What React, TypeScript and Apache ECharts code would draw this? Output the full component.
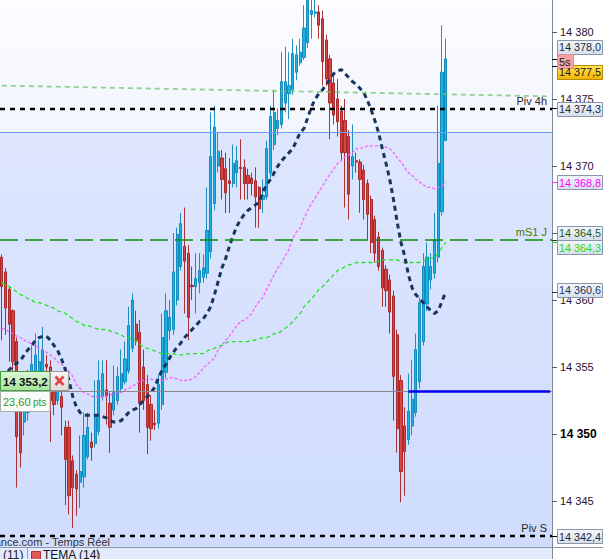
import React, { useEffect, useRef } from "react";
import * as echarts from "echarts";

const FONT = "'Liberation Sans', Arial, sans-serif";
const SLOT_COUNT = 148;
const CATEGORIES = Array.from({ length: SLOT_COUNT }, (_, i) => `t${i}`);

const OPEN = [
  14363.2, 14362.1, 14360.8, 14359.2, 14356.9, 14352.5, 14350.9, 14351.6, 14352.9, 14354.6,
  14354.4, 14354.6, 14355.2, 14355.0, 14353.1, 14352.5, 14352.8, 14350.5, 14350.5, 14348.0,
  14347.0, 14346.4, 14346.8, 14348.3, 14349.4, 14349.3, 14350.2, 14352.8, 14353.3, 14352.3,
  14351.8, 14352.5, 14353.4, 14353.9, 14354.7, 14356.4, 14358.2, 14357.6, 14355.0, 14353.7,
  14352.2, 14350.8, 14350.8, 14352.2, 14354.6, 14357.7, 14357.8, 14360.0, 14362.5, 14364.0,
  14363.5, 14361.1, 14361.0, 14361.3, 14361.7, 14362.0, 14363.6, 14367.2, 14370.0, 14370.6,
  14369.8, 14368.9, 14368.7, 14369.5, 14369.9, 14369.9, 14369.3, 14369.1, 14368.9, 14368.4,
  14367.5, 14367.7, 14369.5, 14371.6, 14372.8, 14373.1, 14374.7, 14375.4, 14375.7, 14377.0,
  14377.7, 14378.1, 14379.2, 14381.3, 14381.4, 14381.5, 14381.0, 14379.4, 14378.0, 14376.2,
  14375.0, 14374.1, 14373.4, 14372.2, 14370.0, 14370.4, 14370.3, 14369.7, 14368.7, 14367.5,
  14366.0, 14364.7, 14363.7, 14362.3, 14361.5, 14360.3, 14357.4, 14354.0, 14350.6, 14349.6,
  14350.6, 14351.6, 14353.9, 14356.9, 14359.7, 14361.5, 14362.0, 14363.2, 14366.6, 14371.9,
];
const CLOSE = [
  14361.0, 14359.4, 14358.2, 14355.4, 14349.8, 14348.6, 14352.5, 14353.7, 14355.2, 14355.9,
  14355.4, 14356.3, 14355.0, 14352.5, 14352.2, 14353.7, 14352.0, 14348.1, 14345.4, 14346.0,
  14345.9, 14347.2, 14349.9, 14350.5, 14349.0, 14351.3, 14354.0, 14354.5, 14352.8, 14350.5,
  14353.1, 14354.3, 14354.5, 14355.6, 14358.1, 14360.0, 14357.0, 14352.3, 14352.5, 14350.5,
  14350.4, 14350.7, 14353.7, 14357.2, 14359.2, 14358.7, 14362.1, 14364.9, 14365.7, 14362.9,
  14358.7, 14361.0, 14361.6, 14362.2, 14362.4, 14365.2, 14370.7, 14372.9, 14371.1, 14369.0,
  14368.0, 14368.7, 14370.2, 14370.4, 14369.8, 14368.7, 14368.7, 14368.7, 14367.7, 14366.8,
  14367.8, 14371.3, 14373.7, 14374.0, 14373.4, 14376.3, 14376.3, 14376.0, 14378.4, 14378.3,
  14378.5, 14380.3, 14382.6, 14381.6, 14381.5, 14380.5, 14377.8, 14376.5, 14374.7, 14373.8,
  14373.3, 14371.0, 14371.0, 14367.9, 14370.7, 14370.3, 14369.0, 14367.5, 14366.4, 14364.3,
  14363.5, 14362.5, 14360.9, 14360.7, 14359.1, 14354.3, 14350.4, 14347.2, 14348.7, 14351.7,
  14352.6, 14356.3, 14359.8, 14362.5, 14363.2, 14362.5, 14364.5, 14370.2, 14377.0, 14378.0,
];
const LOW = [
  14357.0, 14357.4, 14355.4, 14353.8, 14346.0, 14347.5, 14349.9, 14351.0, 14352.5, 14354.0,
  14353.7, 14354.0, 14354.4, 14349.4, 14351.4, 14352.2, 14349.9, 14344.7, 14344.0, 14343.0,
  14343.9, 14344.5, 14346.0, 14348.1, 14348.0, 14349.0, 14349.9, 14352.5, 14350.7, 14348.6,
  14351.4, 14352.2, 14353.1, 14353.7, 14354.5, 14356.1, 14356.6, 14350.1, 14351.8, 14348.5,
  14349.5, 14350.3, 14350.4, 14351.8, 14354.2, 14357.0, 14357.4, 14359.6, 14362.2, 14359.0,
  14357.0, 14360.0, 14359.0, 14360.5, 14361.3, 14361.6, 14363.1, 14366.7, 14369.5, 14367.5,
  14366.5, 14366.5, 14368.4, 14368.4, 14367.5, 14367.5, 14367.5, 14367.8, 14365.4, 14365.4,
  14366.5, 14367.5, 14369.1, 14371.2, 14372.3, 14372.8, 14374.0, 14373.5, 14375.3, 14376.4,
  14377.5, 14377.9, 14378.8, 14379.5, 14381.1, 14379.5, 14376.0, 14376.0, 14372.0, 14373.1,
  14372.2, 14370.4, 14366.9, 14366.0, 14369.0, 14369.5, 14366.5, 14366.0, 14364.5, 14363.5,
  14362.8, 14362.2, 14359.5, 14359.5, 14357.5, 14351.0, 14348.6, 14344.9, 14345.4, 14349.2,
  14349.9, 14351.3, 14353.4, 14356.6, 14359.2, 14360.8, 14361.6, 14362.8, 14366.3, 14371.9,
];
const HIGH = [
  14363.4, 14362.4, 14361.0, 14359.3, 14357.2, 14353.3, 14352.9, 14354.8, 14356.6, 14357.5,
  14357.0, 14358.0, 14355.9, 14355.5, 14354.0, 14354.4, 14353.7, 14351.0, 14351.0, 14348.4,
  14347.3, 14349.9, 14351.6, 14351.6, 14350.1, 14354.0, 14355.5, 14355.5, 14355.5, 14353.1,
  14355.1, 14355.0, 14356.3, 14356.9, 14359.5, 14360.5, 14359.2, 14358.5, 14356.3, 14354.4,
  14352.9, 14351.8, 14354.4, 14359.0, 14360.5, 14360.0, 14365.0, 14365.4, 14366.5, 14366.9,
  14364.1, 14362.5, 14363.5, 14363.5, 14363.4, 14368.4, 14374.0, 14374.5, 14372.5, 14371.2,
  14371.0, 14370.6, 14371.6, 14371.5, 14372.0, 14370.5, 14369.8, 14369.5, 14369.9, 14368.5,
  14369.0, 14371.9, 14374.5, 14375.7, 14374.3, 14378.5, 14378.9, 14378.5, 14379.5, 14379.0,
  14379.5, 14382.0, 14383.1, 14382.8, 14382.6, 14382.0, 14381.6, 14379.8, 14378.3, 14376.8,
  14376.5, 14374.5, 14375.0, 14372.7, 14373.1, 14371.0, 14370.5, 14370.1, 14369.0, 14367.8,
  14366.3, 14365.1, 14363.9, 14362.6, 14361.9, 14360.7, 14357.8, 14354.4, 14352.0, 14354.5,
  14355.5, 14357.5, 14360.2, 14363.5, 14364.3, 14363.5, 14366.5, 14374.5, 14380.5, 14379.5,
];

const TEMA = [
  14354.2, 14354.5, 14354.8, 14355.1, 14355.3, 14355.5, 14355.9, 14356.3, 14356.6, 14357.0,
  14357.2, 14357.3, 14357.3, 14357.0, 14356.6, 14356.2, 14355.6, 14354.8, 14354.0, 14352.8,
  14352.0, 14351.6, 14351.4, 14351.4, 14351.4, 14351.4, 14351.4, 14351.3, 14351.2, 14351.0,
  14350.9, 14350.9, 14351.0, 14351.3, 14351.6, 14351.8, 14351.9, 14352.2, 14352.5, 14352.8,
  14353.1, 14353.5, 14354.2, 14354.8, 14355.2, 14355.7, 14356.1, 14356.5, 14356.8, 14357.2,
  14357.5, 14357.8, 14358.1, 14358.4, 14358.6, 14359.0, 14359.5, 14360.4, 14361.4, 14362.4,
  14363.1, 14364.0, 14364.8, 14365.5, 14366.0, 14366.4, 14366.7, 14366.9, 14367.1, 14367.3,
  14368.1, 14368.6, 14369.0, 14369.5, 14370.0, 14370.4, 14370.7, 14371.0, 14371.3, 14371.9,
  14372.5, 14372.8, 14373.6, 14374.4, 14375.0, 14375.4, 14375.7, 14376.1, 14376.5, 14376.9,
  14377.1, 14377.2, 14376.9, 14376.6, 14376.3, 14376.1, 14375.8, 14375.5, 14374.9, 14374.2,
  14373.4, 14372.5, 14371.3, 14370.2, 14369.0, 14367.5, 14365.8, 14364.3, 14363.3, 14361.9,
  14360.9, 14360.4, 14360.1, 14359.8, 14359.5, 14359.2, 14359.0, 14359.2, 14359.9, 14360.6,
];
const MA_PINK = [
  14357.9, 14357.8, 14357.6, 14357.5, 14357.3, 14357.2, 14357.0, 14356.9, 14356.7, 14356.6,
  14356.4, 14356.3, 14356.1, 14355.9, 14355.7, 14355.4, 14355.2, 14355.0, 14354.7, 14354.3,
  14353.7, 14353.4, 14353.1, 14353.0, 14352.8, 14352.8, 14352.7, 14352.8, 14352.8, 14352.9,
  14353.0, 14353.1, 14353.1, 14353.3, 14353.4, 14353.6, 14353.7, 14354.0, 14354.0, 14354.1,
  14354.1, 14354.0, 14354.0, 14354.0, 14354.1, 14354.2, 14354.2, 14354.1, 14354.0, 14354.0,
  14354.0, 14354.1, 14354.3, 14354.6, 14354.9, 14355.2, 14355.4, 14355.7, 14356.3, 14356.6,
  14357.0, 14357.3, 14357.7, 14358.1, 14358.4, 14358.5, 14358.7, 14359.0, 14359.5, 14359.9,
  14360.2, 14360.8, 14361.3, 14361.9, 14362.4, 14362.8, 14363.3, 14363.8, 14364.6, 14365.1,
  14365.4, 14366.1, 14366.7, 14367.2, 14367.6, 14368.1, 14368.5, 14369.0, 14369.4, 14369.8,
  14370.2, 14370.4, 14370.7, 14370.8, 14371.0, 14371.3, 14371.3, 14371.4, 14371.5, 14371.5,
  14371.5, 14371.5, 14371.5, 14371.4, 14371.3, 14371.0, 14370.6, 14370.3, 14369.9, 14369.5,
  14369.3, 14369.0, 14368.8, 14368.6, 14368.4, 14368.4, 14368.3, 14368.4, 14368.5, 14368.8,
];
const MA_GREEN = [
  14361.3, 14361.1, 14361.0, 14360.8, 14360.6, 14360.4, 14360.3, 14360.1, 14360.0, 14359.8,
  14359.8, 14359.7, 14359.6, 14359.5, 14359.4, 14359.2, 14359.1, 14359.0, 14358.8, 14358.6,
  14358.4, 14358.3, 14358.1, 14358.1, 14358.0, 14357.9, 14357.8, 14357.8, 14357.8, 14357.7,
  14357.6, 14357.5, 14357.4, 14357.2, 14357.2, 14357.1, 14356.9, 14356.7, 14356.5, 14356.4,
  14356.3, 14356.2, 14356.1, 14356.0, 14356.0, 14356.0, 14356.0, 14355.9, 14355.9, 14355.9,
  14356.0, 14356.0, 14356.0, 14356.0, 14356.0, 14356.2, 14356.3, 14356.4, 14356.6, 14356.6,
  14356.8, 14356.9, 14356.9, 14356.9, 14356.9, 14356.9, 14356.9, 14357.0, 14357.0, 14357.1,
  14357.2, 14357.2, 14357.3, 14357.5, 14357.5, 14357.7, 14357.9, 14358.1, 14358.4, 14358.7,
  14359.0, 14359.5, 14359.8, 14360.1, 14360.4, 14360.8, 14361.0, 14361.3, 14361.6, 14361.9,
  14362.2, 14362.3, 14362.5, 14362.6, 14362.7, 14362.8, 14362.8, 14362.8, 14362.8, 14362.8,
  14362.8, 14362.9, 14363.0, 14363.0, 14363.0, 14363.0, 14363.0, 14362.9, 14362.8, 14362.8,
  14362.8, 14362.8, 14362.8, 14362.9, 14363.1, 14363.1, 14363.2, 14363.5, 14363.9, 14364.3,
];

const TREND_LINE = [14376.0, 14375.2];
const Y_TICKS = [14345, 14350, 14355, 14360, 14365, 14370, 14375, 14380];
const BOLD_TICK = 14350;
const LEVEL_PIV_4H = 14374.3;
const LEVEL_MS1_J = 14364.5;
const LEVEL_PIV_S = 14342.4;
const ZONE_EDGE = 14372.5;
const ORDER_PRICE = 14353.2;
const ORDER_PTS = "23,60";
const ORDER_START = 109;
const LAST_PRICE = 14378.0;
const ASK_PRICE = 14377.5;
const Y_MIN = 14341.57;
const Y_MAX = 14382.39;

function fmt(v: number, d = 1): string {
  const s = v.toFixed(d);
  const parts = s.split(".");
  const ip = parts[0].replace(/\B(?=(\d{3})+(?!\d))/g, " ");
  return parts[1] ? ip + "," + parts[1] : ip;
}

const grad = (a: string, b: string) =>
  new echarts.graphic.LinearGradient(0, 0, 0, 1, [
    { offset: 0, color: a },
    { offset: 1, color: b },
  ]);

export default function App() {
  const ref = useRef<HTMLDivElement>(null);

  useEffect(() => {
    const el = ref.current as HTMLDivElement;
    const chart = echarts.init(el, null, { renderer: "svg" });
    const candles = OPEN.map((o, i) => [o, CLOSE[i], LOW[i], HIGH[i]]);
    const last = CATEGORIES[SLOT_COUNT - 1];

    const option: any = {
      animation: false,
      backgroundColor: "#ffffff",
      grid: {
        left: 0,
        right: 51,
        top: 0,
        bottom: 12,
        show: true,
        borderWidth: 0,
        backgroundColor: new echarts.graphic.LinearGradient(0, 0, 0, 1, [
          { offset: 0, color: "#fcfdff" },
          { offset: 0.24, color: "#f3f5fe" },
          { offset: 1, color: "#f3f5fe" },
        ]),
      },
      xAxis: {
        type: "category",
        data: CATEGORIES,
        boundaryGap: true,
        show: false,
      },
      yAxis: {
        type: "value",
        position: "right",
        min: Y_MIN,
        max: Y_MAX,
        splitLine: { show: false },
        axisLine: { show: true, lineStyle: { color: "#7d8a99", width: 1 } },
        axisTick: {
          show: true,
          length: 5,
          lineStyle: { color: "#555c66" },
          customValues: Y_TICKS,
        },
        axisLabel: {
          customValues: Y_TICKS,
          margin: 8,
          color: "#2b1035",
          fontSize: 11,
          fontFamily: FONT,
          formatter: (v: number) =>
            v === BOLD_TICK ? `{b|${fmt(v, 0)}}` : fmt(v, 0),
          rich: {
            b: { fontWeight: "bold", fontSize: 12, color: "#000000", fontFamily: FONT },
          },
        },
      },
      series: [
        {
          type: "candlestick",
          data: candles,
          barWidth: 2.7,
          z: 2,
          itemStyle: {
            color: "#1ab3e8",
            color0: "#d64545",
            borderColor: "#0a85b8",
            borderColor0: "#a51d1d",
            borderWidth: 0.9,
          },
          markArea: {
            silent: true,
            label: { show: false },
            data: [
              [
                {
                  yAxis: ZONE_EDGE,
                  itemStyle: { color: grad("#dee6fe", "#cfdcfd"), opacity: 1 },
                },
                { yAxis: Y_MIN },
              ],
            ],
          },
          markLine: {
            silent: true,
            symbol: ["none", "none"],
            label: { show: false },
            data: [
              {
                yAxis: ZONE_EDGE,
                lineStyle: { color: "#6b9bff", width: 1, type: "solid" },
              },
              {
                yAxis: ORDER_PRICE,
                lineStyle: { color: "#8a8a8a", width: 1, type: "solid" },
              },
              [
                {
                  coord: [CATEGORIES[ORDER_START], ORDER_PRICE],
                  lineStyle: { color: "#0000ee", width: 2.5, type: "solid" },
                },
                { coord: [last, ORDER_PRICE] },
              ],
              [
                {
                  coord: [CATEGORIES[0], TREND_LINE[0]],
                  lineStyle: { color: "#6cc46c", width: 1.8, type: [5, 4], opacity: 0.75 },
                },
                { coord: [last, TREND_LINE[1]] },
              ],
              {
                yAxis: LEVEL_PIV_4H,
                lineStyle: { color: "#000000", width: 2.4, type: [5, 5] },
                label: {
                  show: true,
                  position: "insideEndTop",
                  formatter: "Piv 4h",
                  color: "#2a2a2a",
                  fontSize: 11,
                  fontFamily: FONT,
                  distance: [5, 2],
                },
              },
              {
                yAxis: LEVEL_MS1_J,
                lineStyle: { color: "#0a8a0a", width: 1.6, type: [18, 7] },
                label: {
                  show: true,
                  position: "insideEndTop",
                  formatter: "mS1 J",
                  color: "#4d7a00",
                  fontSize: 11,
                  fontFamily: FONT,
                  distance: [5, 2],
                },
              },
              {
                yAxis: LEVEL_PIV_S,
                lineStyle: { color: "#000000", width: 2.4, type: [5, 5] },
                label: {
                  show: true,
                  position: "insideEndTop",
                  formatter: "Piv S",
                  color: "#2a2a2a",
                  fontSize: 11,
                  fontFamily: FONT,
                  distance: [5, 2],
                },
              },
            ],
          },
        },
        {
          type: "line",
          data: MA_GREEN,
          symbol: "none",
          silent: true,
          z: 3,
          lineStyle: { color: "#22e622", width: 1.3, type: [4, 3] },
        },
        {
          type: "line",
          data: MA_PINK,
          symbol: "none",
          silent: true,
          z: 3,
          lineStyle: { color: "#ff5cff", width: 1.3, type: [3, 2] },
        },
        {
          type: "line",
          data: TEMA,
          symbol: "none",
          silent: true,
          z: 4,
          lineStyle: { color: "#17365d", width: 3, type: [5, 4] },
        },
      ],
    };

    chart.setOption(option);

    const yp = (v: number) => chart.convertToPixel({ yAxisIndex: 0 }, v) as number;
    const lightFill = () => grad("#f4f7fc", "#d5deea");
    const elements: any[] = [];

    const txt = (x: number, y: number, text: string, fill: string, size: number, opts: any = {}) => ({
      type: "text",
      z: 102,
      x,
      y,
      style: {
        text,
        fill,
        font: `${opts.weight || "normal"} ${size}px ${FONT}`,
        textAlign: opts.align || "left",
        align: opts.align || "left",
        textVerticalAlign: opts.valign || "middle",
        verticalAlign: opts.valign || "middle",
      },
    });
    const line = (x1: number, y1: number, x2: number, y2: number, stroke: string, w = 1) => ({
      type: "line",
      z: 101,
      shape: { x1, y1, x2, y2 },
      style: { stroke, lineWidth: w },
    });
    const rect = (x: number, y: number, w: number, h: number, fill: any, stroke: string) => ({
      type: "rect",
      z: 100,
      shape: { x, y, width: w, height: h },
      style: { fill, stroke, lineWidth: 1 },
    });

    // bottom strip
    elements.push(rect(0, 547, 552, 12, "#e4eafd", "#e4eafd"));
    elements.push(line(0, 547.5, 603, 547.5, "#8c96a6"));
    elements.push(line(552.5, 540, 552.5, 559, "#7d8a99"));
    elements.push(txt(110, 541.5, "ance.com - Temps Réel", "#333333", 11, { align: "right" }));
    elements.push(txt(3, 549, "(11)", "#222222", 12, { valign: "top" }));
    elements.push(line(27.5, 548, 27.5, 559, "#9aa4b4"));
    elements.push(rect(31.5, 551.5, 9, 9, "#e05a5a", "#b03030"));
    elements.push(txt(43, 549, "TEMA (14)", "#111111", 12, { valign: "top" }));
    elements.push(line(97.5, 548, 97.5, 559, "#9aa4b4"));

    // price tags on the axis
    const tag = (value: number, text: string, color: string, dy: number, fill: any, stroke: string, tick: string) => {
      const vy = yp(value);
      const cy = vy + dy;
      elements.push(line(552, Math.round(vy) + 0.5, 557, Math.round(vy) + 0.5, tick, 1));
      elements.push(rect(557.5, Math.round(cy - 7) + 0.5, 45, 14, fill, stroke));
      elements.push(txt(559, cy + 0.5, text, color, 10.8));
    };
    tag(LAST_PRICE, fmt(LAST_PRICE), "#1a2a40", -12, lightFill(), "#8797aa", "#000000");
    tag(ASK_PRICE, fmt(ASK_PRICE), "#1a1a1a", 6, grad("#ffe55a", "#f2b400"), "#b88a00", "#000000");
    {
      const cy = yp(LAST_PRICE) + 2.5;
      elements.push(rect(557.5, Math.round(cy - 7) + 0.5, 16, 14, "#f3a3a3", "#e48c8c"));
      elements.push(txt(559, cy + 0.5, "5s", "#222222", 11));
    }
    tag(LEVEL_PIV_4H, fmt(LEVEL_PIV_4H), "#1a2a40", 0.5, lightFill(), "#8797aa", "#000000");
    tag(MA_PINK[MA_PINK.length - 1], fmt(MA_PINK[MA_PINK.length - 1]), "#ff00ff", 0, lightFill(), "#8797aa", "#ff33ff");
    tag(LEVEL_MS1_J, fmt(LEVEL_MS1_J), "#1d5e1d", -7, lightFill(), "#8797aa", "#333333");
    tag(MA_GREEN[MA_GREEN.length - 1], fmt(MA_GREEN[MA_GREEN.length - 1]), "#22dd22", 5, lightFill(), "#8797aa", "#22dd22");
    tag(TEMA[TEMA.length - 1], fmt(TEMA[TEMA.length - 1]), "#17365d", -2, lightFill(), "#8797aa", "#17365d");
    tag(LEVEL_PIV_S, fmt(LEVEL_PIV_S), "#1a2a40", 0.5, lightFill(), "#8797aa", "#000000");

    // order widget on the left
    const yo = Math.round(yp(ORDER_PRICE));
    elements.push(rect(0.5, yo - 19.5, 49.5, 19, grad("#dcf7d6", "#a6e59c"), "#3f9f3f"));
    elements.push(txt(3, yo - 9.5, fmt(ORDER_PRICE), "#111111", 11.5, { weight: "bold" }));
    elements.push(rect(50.5, yo - 19.5, 18, 19, grad("#f6f6f6", "#dcdcdc"), "#9a9a9a"));
    elements.push(line(55.5, yo - 14.5, 63.5, yo - 6, "#e04545", 2.6));
    elements.push(line(63.5, yo - 14.5, 55.5, yo - 6, "#e04545", 2.6));
    elements.push(rect(0.5, yo + 0.5, 49.5, 20, "#f9fcf9", "#a8b0a8"));
    elements.push(txt(3, yo + 11, ORDER_PTS, "#2f9a2f", 11));
    elements.push(txt(33, yo + 11.5, "pts", "#2f9a2f", 10));

    chart.setOption({ graphic: { elements } });

    return () => chart.dispose();
  }, []);

  return (
    <div
      ref={ref}
      style={{ position: "fixed", left: 0, top: 0, width: 603, height: 559 }}
    />
  );
}
